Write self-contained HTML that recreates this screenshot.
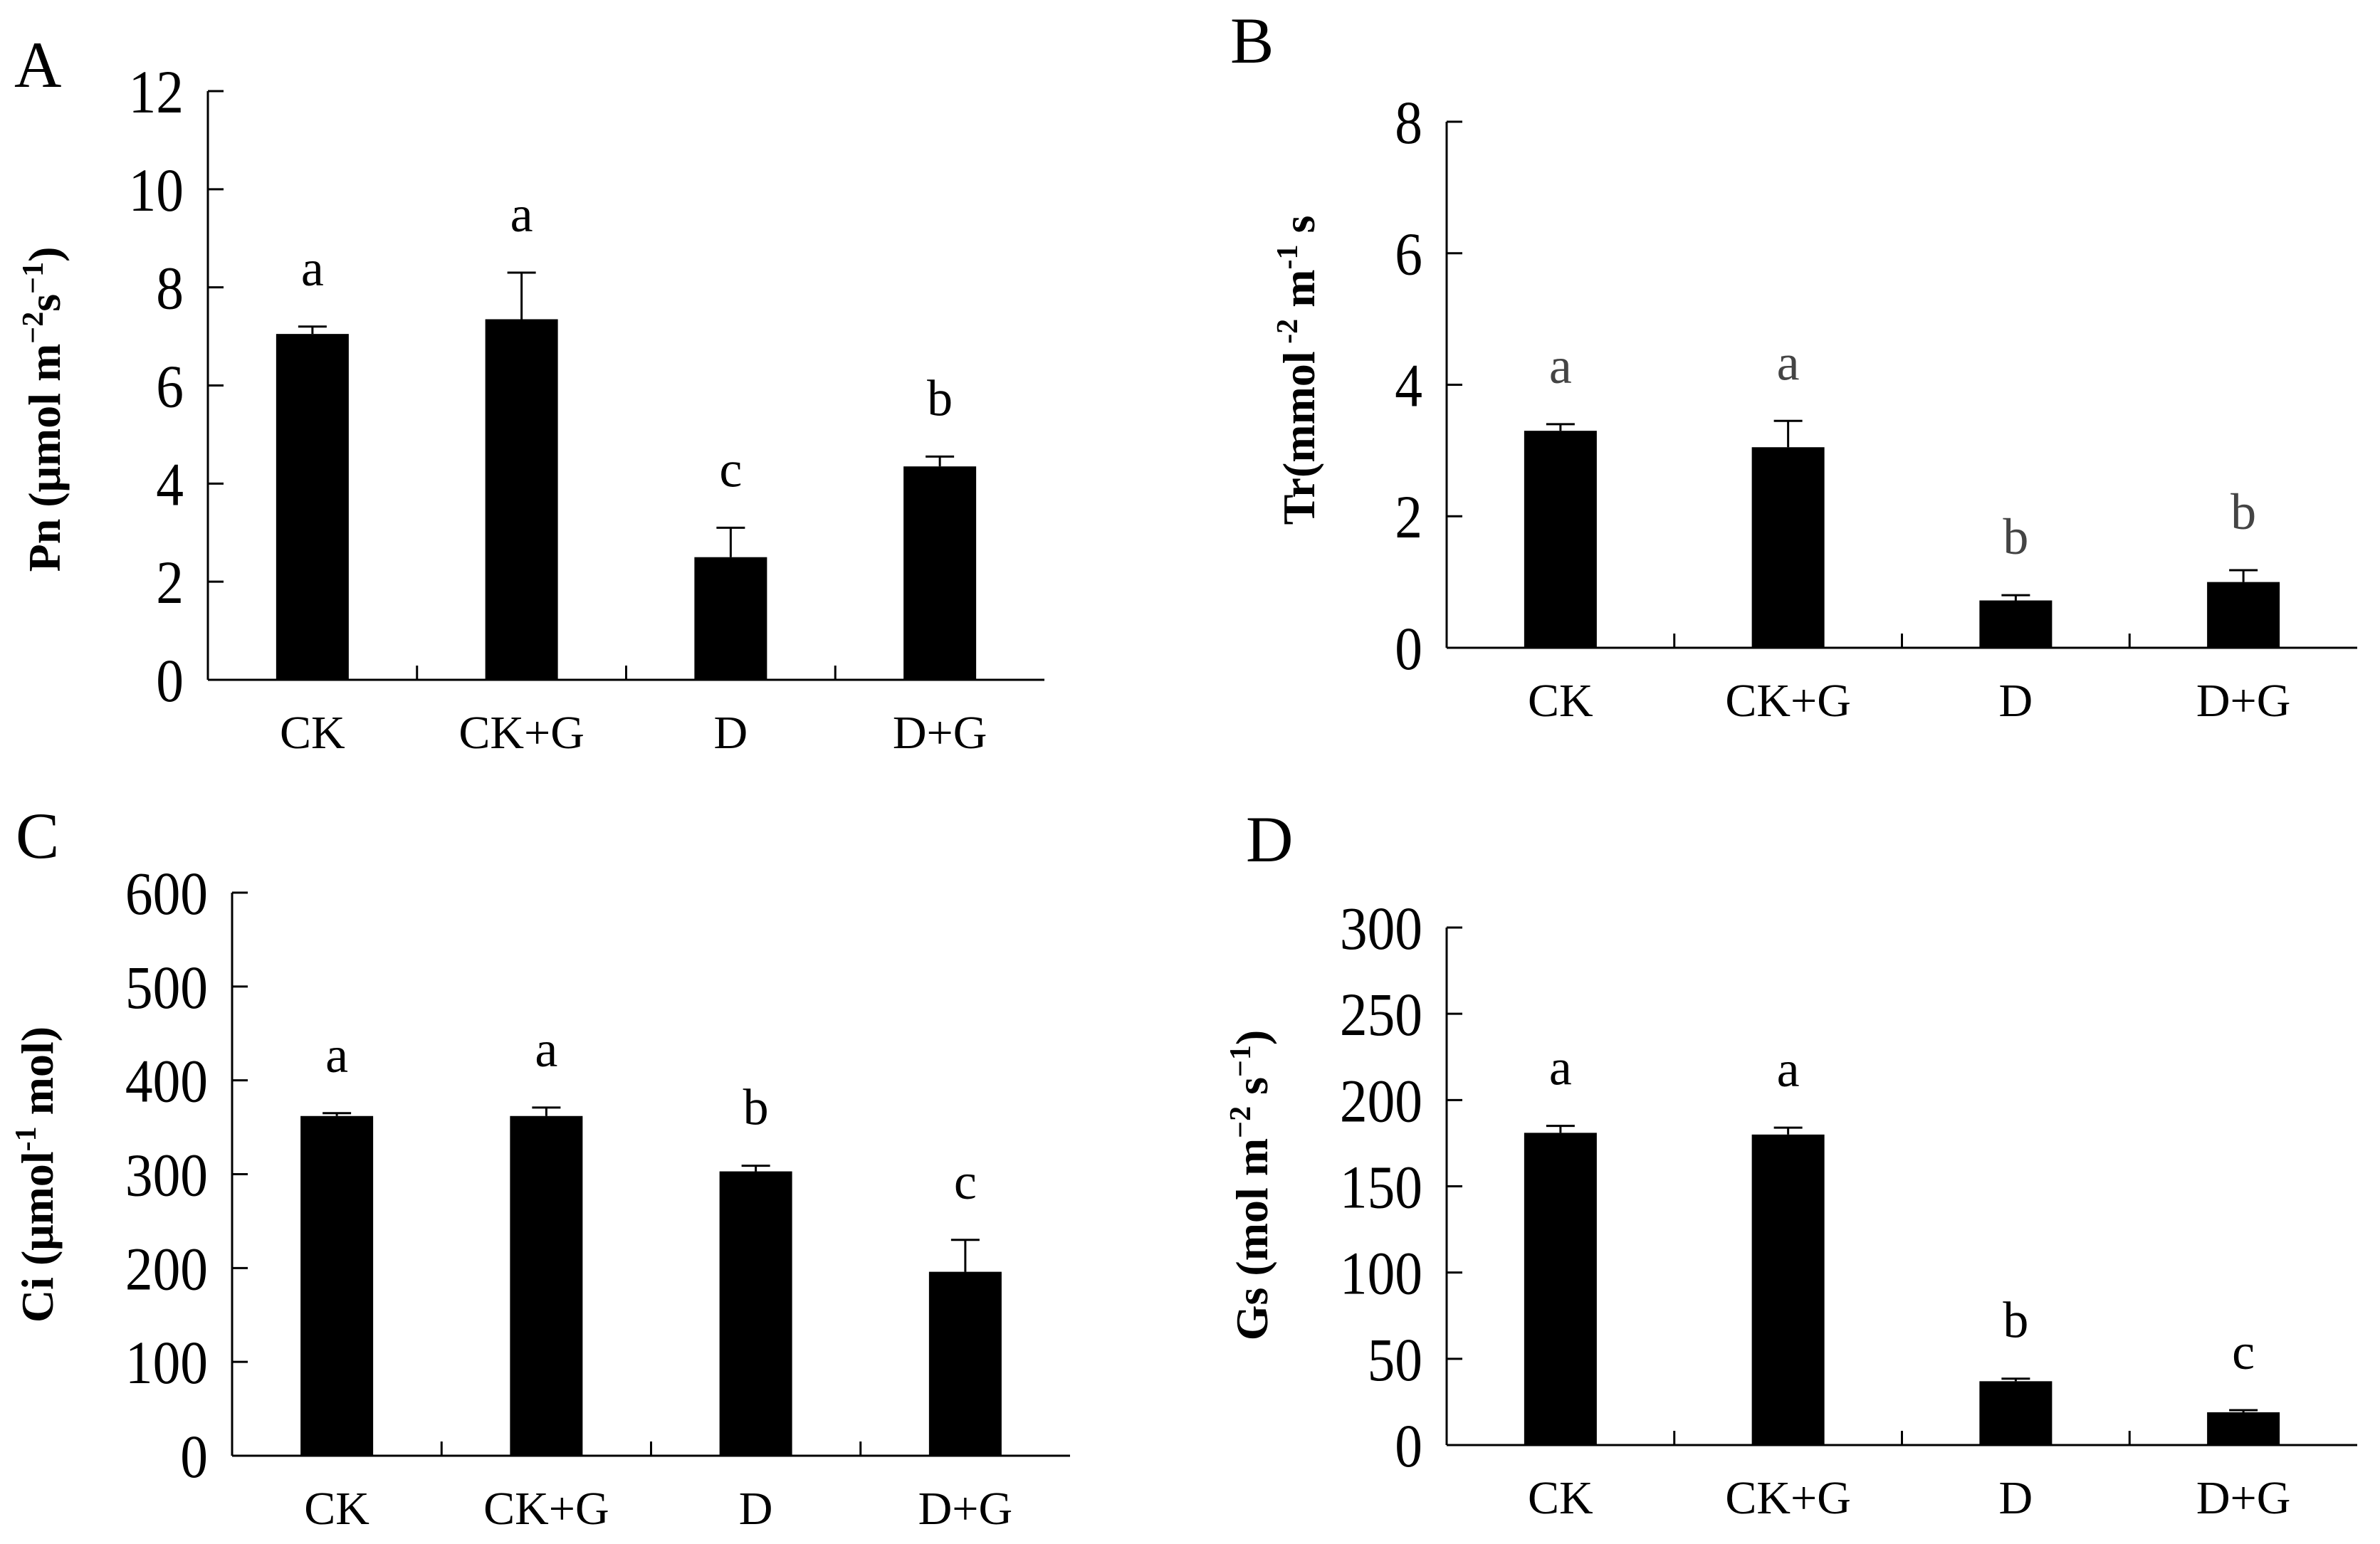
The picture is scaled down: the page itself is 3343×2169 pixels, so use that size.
<!DOCTYPE html>
<html><head><meta charset="utf-8"><style>
html,body{margin:0;padding:0;background:#fff;}
svg{display:block;}
text{font-family:"Liberation Serif","Times New Roman",serif;}
</style></head><body>
<svg id="fig" width="3343" height="2169" viewBox="0 0 3343 2169" xmlns="http://www.w3.org/2000/svg" font-family="Liberation Serif, serif"></svg>
<script>
const categories = ["CK","CK+G","D","D+G"];
const pnValues = [7.05, 7.35, 2.5, 4.35];
const pnErrors = [0.15, 0.95, 0.6, 0.2];
const pnLetters = ["a","a","c","b"];
const pnTicks = [0,2,4,6,8,10,12];
const trValues = [3.3, 3.05, 0.72, 1.0];
const trErrors = [0.1, 0.4, 0.08, 0.18];
const trLetters = ["a","a","b","b"];
const trTicks = [0,2,4,6,8];
const ciValues = [362, 362, 303, 196];
const ciErrors = [3, 9, 6, 34];
const ciLetters = ["a","a","b","c"];
const ciTicks = [0,100,200,300,400,500,600];
const gsValues = [181, 180, 37, 19];
const gsErrors = [4, 4, 1.5, 1.2];
const gsLetters = ["a","a","b","c"];
const gsTicks = [0,50,100,150,200,250,300];

const NS = "http://www.w3.org/2000/svg";
const svg = document.getElementById("fig");
function mk(tag, attrs, parent, txt){
  const e = document.createElementNS(NS, tag);
  for (const k in attrs) e.setAttribute(k, attrs[k]);
  if (tag === "text") e.setAttribute("font-family", "Liberation Serif, serif");
  if (txt !== undefined) e.textContent = txt;
  (parent || svg).appendChild(e);
  return e;
}
function panel(p){
  const g = mk("g", {});
  
  
  const max = p.ticks[p.ticks.length-1];
  const y = v => p.y0 - (v / max) * (p.y0 - p.yTop);
  const catW = (p.xEnd - p.x0) / categories.length;
  const x = i => p.x0 + catW * (i + 0.5);
  const pl = mk("text", {x:p.lx, y:p.ly, "font-size":92}, g, p.letter);
  
  
  const ya = mk("line", {x1:p.x0, y1:p.yTop, x2:p.x0, y2:p.y0, stroke:"#000", "stroke-width":3}, g);
  
  
  const xa = mk("line", {x1:p.x0, y1:p.y0, x2:p.xEnd, y2:p.y0, stroke:"#000", "stroke-width":3}, g);
  
  
  p.ticks.forEach(t => {
    mk("line", {x1:p.x0, y1:y(t), x2:p.x0+22, y2:y(t), stroke:"#000", "stroke-width":3}, g);
    const tl = mk("text", {x:p.x0-34, y:y(t)+30, "font-size":86, "text-anchor":"end", transform:`translate(${(p.x0-34)*0.1},0) scale(0.9,1)`}, g, String(t));
    
    
  });
  for (let i = 1; i < categories.length; i++) {
    const tx = p.x0 + catW * i;
    mk("line", {x1:tx, y1:p.y0, x2:tx, y2:p.y0-20, stroke:"#000", "stroke-width":3}, g);
  }
  categories.forEach((c, i) => {
    const cl = mk("text", {x:x(i), y:p.y0+96, "font-size":66, "text-anchor":"middle"}, g, c);
    
    
    const v = p.values[i], e = p.errors[i];
    const bw = 102;
    const bar = mk("rect", {x:x(i)-bw/2, y:y(v), width:bw, height:p.y0-y(v), fill:"#000"}, g);
    
    
    const et = y(v + e);
    const eb = mk("line", {x1:x(i), y1:et, x2:x(i), y2:y(v), stroke:"#000", "stroke-width":3}, g);
    
    
    mk("line", {x1:x(i)-20, y1:et, x2:x(i)+20, y2:et, stroke:"#000", "stroke-width":3}, g);
    const lt = mk("text", {x:x(i), y:et-58, "font-size":72, "text-anchor":"middle", fill:p.letterColor}, g, p.letters[i]);
    
    
  });
  const yt = mk("text", {x:0, y:0, "font-size":64, "font-weight":"bold", "text-anchor":"middle",
    transform:`translate(${p.tx},${p.ty}) rotate(-90)`}, g);
  yt.innerHTML = p.title;
  
  
}
panel({name:"panel-a-pn", letter:"A", lx:20, ly:122, x0:292, xEnd:1467, y0:955, yTop:128,
  ticks:pnTicks, values:pnValues, errors:pnErrors, letters:pnLetters, letterColor:"#000",
  tx:84, ty:575, title:'Pn (μmol m<tspan font-size="42" dy="-24">−2</tspan><tspan dy="24">s</tspan><tspan font-size="42" dy="-24">−1</tspan><tspan dy="24">)</tspan>'});
panel({name:"panel-b-tr", letter:"B", lx:1728, ly:88, x0:2032, xEnd:3311, y0:910, yTop:171,
  ticks:trTicks, values:trValues, errors:trErrors, letters:trLetters, letterColor:"#444",
  tx:1846, ty:520, title:'Tr(mmol<tspan font-size="42" dy="-24"> -2</tspan><tspan dy="24"> m</tspan><tspan font-size="42" dy="-24">-1</tspan><tspan dy="24"> s</tspan>'});
panel({name:"panel-c-ci", letter:"C", lx:22, ly:1205, x0:326, xEnd:1503, y0:2045, yTop:1254,
  ticks:ciTicks, values:ciValues, errors:ciErrors, letters:ciLetters, letterColor:"#000",
  tx:74, ty:1650, title:'Ci (μmol<tspan font-size="42" dy="-24">-1</tspan><tspan dy="24"> mol)</tspan>'});
panel({name:"panel-d-gs", letter:"D", lx:1750, ly:1210, x0:2032, xEnd:3311, y0:2030, yTop:1303,
  ticks:gsTicks, values:gsValues, errors:gsErrors, letters:gsLetters, letterColor:"#000",
  tx:1780, ty:1665, title:'Gs (mol m<tspan font-size="42" dy="-24">−2</tspan><tspan dy="24"> s</tspan><tspan font-size="42" dy="-24">−1</tspan><tspan dy="24">)</tspan>'});
</script>
</body></html>
